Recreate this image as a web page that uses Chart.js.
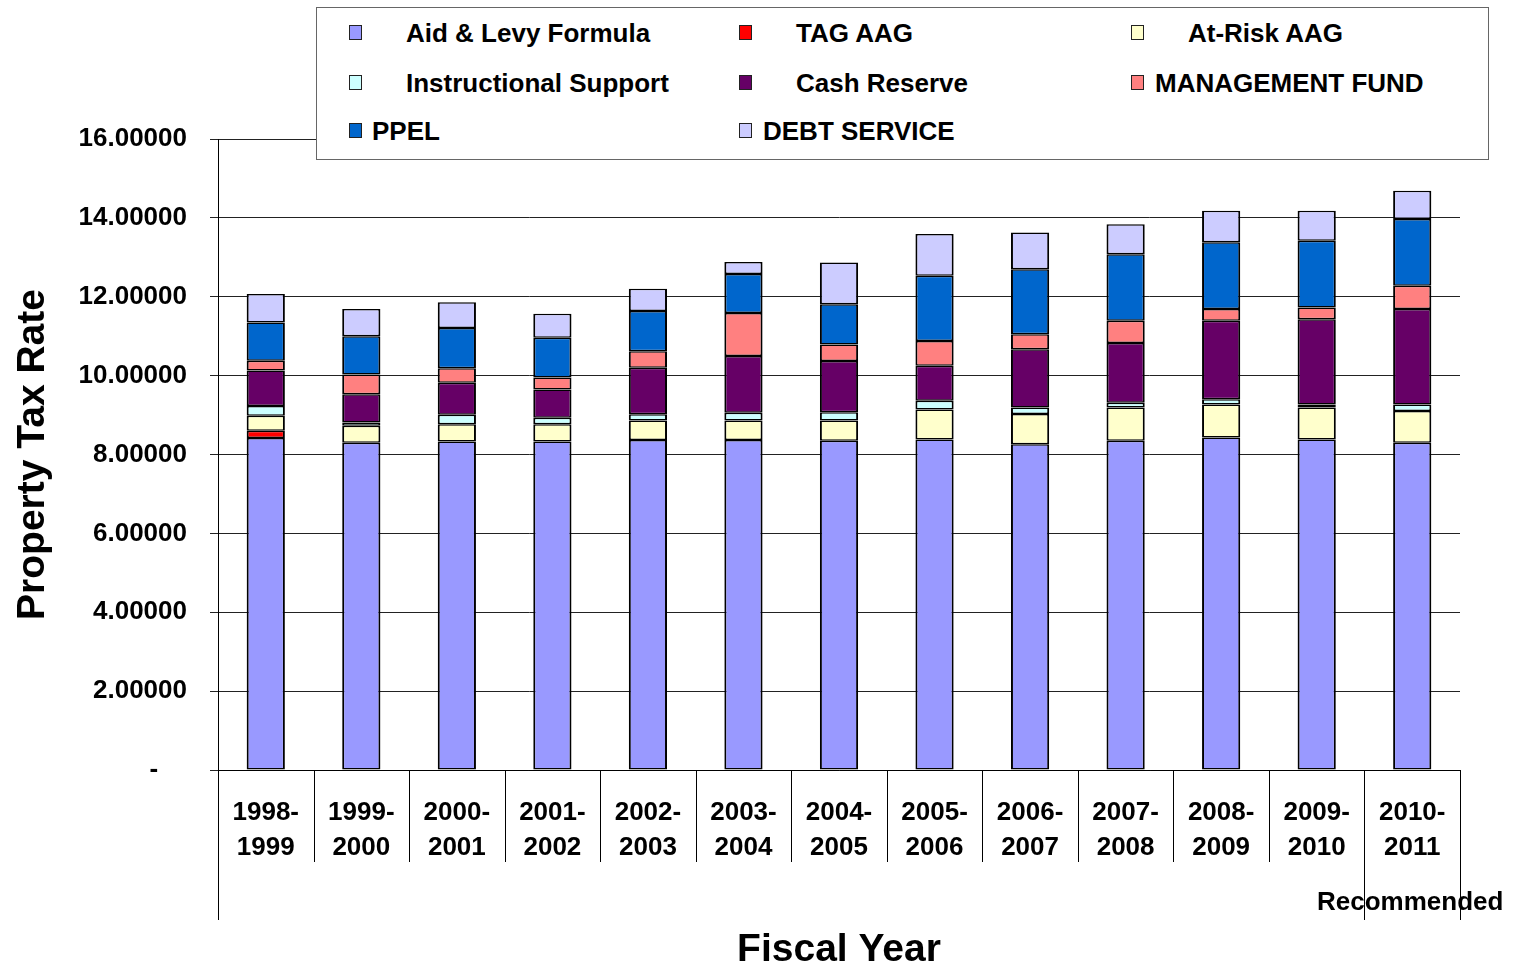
<!DOCTYPE html>
<html>
<head>
<meta charset="utf-8">
<script src="https://cdn.jsdelivr.net/npm/chart.js@4"></script>
<style>
  body { margin: 0; background: #fff; }
  #wrap { position: relative; width: 1521px; height: 968px; }
  #legend { position: absolute; left: 316px; top: 7px; width: 1171px; height: 151px;
    border: 1px solid #666; background: #fff; font: bold 26px "Liberation Sans", Arial, sans-serif; }
  .sw { position: absolute; width: 11px; height: 13px; border: 1.5px solid #222; }
  .lt { position: absolute; white-space: nowrap; line-height: 30px; color: #000; }
</style>
</head>
<body>
<div id="wrap">
  <canvas id="myChart" width="1521" height="968"></canvas>
  <div id="legend"></div>
</div>
<script>
const years = [
  ["1998-", "1999"], ["1999-", "2000"], ["2000-", "2001"], ["2001-", "2002"],
  ["2002-", "2003"], ["2003-", "2004"], ["2004-", "2005"], ["2005-", "2006"],
  ["2006-", "2007"], ["2007-", "2008"], ["2008-", "2009"], ["2009-", "2010"],
  ["2010-", "2011"]
];
const seriesNames = ["Aid & Levy Formula", "TAG AAG", "At-Risk AAG", "Instructional Support",
  "Cash Reserve", "MANAGEMENT FUND", "PPEL", "DEBT SERVICE"];
const seriesColors = ["#9999FF", "#FF0000", "#FFFFCC", "#CCFFFF", "#660066", "#FF8080", "#0066CC", "#CCCCFF"];

const aidLevy = [8.42, 8.30, 8.33, 8.33, 8.37, 8.37, 8.35, 8.38, 8.26, 8.35, 8.43, 8.38, 8.30];
const tagAag = [0.18, 0, 0, 0, 0, 0, 0, 0, 0, 0, 0, 0, 0];
const atRiskAag = [0.38, 0.43, 0.44, 0.44, 0.49, 0.49, 0.51, 0.76, 0.77, 0.84, 0.84, 0.81, 0.80];
const instructional = [0.25, 0.08, 0.24, 0.16, 0.16, 0.20, 0.21, 0.22, 0.16, 0.12, 0.13, 0.08, 0.17];
const cashReserve = [0.90, 0.72, 0.81, 0.72, 1.18, 1.44, 1.30, 0.89, 1.48, 1.52, 1.99, 2.16, 2.42];
const managementFund = [0.25, 0.50, 0.37, 0.30, 0.42, 1.09, 0.42, 0.63, 0.38, 0.56, 0.30, 0.30, 0.59];
const ppel = [0.97, 0.97, 1.02, 1.01, 1.02, 0.99, 1.02, 1.65, 1.65, 1.69, 1.69, 1.69, 1.69];
const debtService = [0.72, 0.69, 0.65, 0.61, 0.56, 0.30, 1.06, 1.06, 0.93, 0.76, 0.80, 0.76, 0.72];

const allSeries = [aidLevy, tagAag, atRiskAag, instructional, cashReserve, managementFund, ppel, debtService];
const recommendedLabel = "Recommended";

const FONT = '"Liberation Sans", Arial, sans-serif';

// legend (html box on top of the chart, like the original)
const legendSpots = [
  [349, 406, 0], [739, 796, 0], [1131, 1188, 0],
  [349, 406, 1], [739, 796, 1], [1131, 1155, 1],
  [349, 372, 2], [739, 763, 2]
];
const rowY = [33, 83, 131];
const legend = document.getElementById("legend");
seriesNames.forEach((name, i) => {
  let [sx, tx, row] = legendSpots[i];
  let sw = document.createElement("div");
  sw.className = "sw";
  sw.style.left = (sx - 317) + "px";
  sw.style.top = (rowY[row] - 8 - 8) + "px";
  sw.style.background = seriesColors[i];
  legend.appendChild(sw);
  let t = document.createElement("div");
  t.className = "lt";
  t.textContent = name;
  t.style.left = (tx - 317) + "px";
  t.style.top = (rowY[row] - 8 - 15) + "px";
  legend.appendChild(t);
});

// category separators + "Recommended" second level
const categoryLines = {
  id: "categoryLines",
  afterDraw(chart) {
    let ctx = chart.ctx;
    let x = chart.scales.x;
    let n = years.length;
    let step = (x.right - x.left) / n;
    let base = x.top;
    ctx.save();
    ctx.strokeStyle = "#000";
    ctx.lineWidth = 1;
    for (let i = 0; i <= n; i++) {
      let px = Math.round(x.left + i * step) + 0.5;
      let long = i === 0 || i === n || i === n - 1;
      ctx.beginPath();
      ctx.moveTo(px, base);
      ctx.lineTo(px, base + (long ? 150 : 92));
      ctx.stroke();
    }
    ctx.fillStyle = "#000";
    ctx.font = "bold 26px " + FONT;
    ctx.textAlign = "center";
    ctx.textBaseline = "middle";
    ctx.fillText(recommendedLabel, x.left + (n - 0.5) * step - 2, base + 133);
    ctx.restore();
  }
};

let ctx = document.getElementById("myChart").getContext("2d");
let chart = new Chart(ctx, {
  type: "bar",
  data: {
    labels: years,
    datasets: allSeries.map((d, i) => ({
      label: seriesNames[i],
      data: d,
      backgroundColor: seriesColors[i],
      borderColor: "#000",
      borderWidth: { top: 1.5, bottom: 1.5, left: 2, right: 2 },
      borderSkipped: false,
      barPercentage: 0.4,
      categoryPercentage: 1
    }))
  },
  options: {
    responsive: false,
    animation: false,
    layout: { padding: { top: 139, right: 61, left: 0, bottom: 0 } },
    plugins: { legend: { display: false }, tooltip: { enabled: false } },
    scales: {
      x: {
        stacked: true,
        grid: { display: false },
        border: { display: true, color: "#000", width: 1 },
        ticks: { color: "#000", padding: 17, font: { family: FONT, size: 26, weight: "bold", lineHeight: 1.35 } },
        title: { display: true, text: "Fiscal Year", color: "#000", padding: { top: 0, bottom: 0 },
          font: { family: FONT, size: 39, weight: "bold", lineHeight: 0.9 } },
        afterFit: (s) => { s.height = 198; }
      },
      y: {
        stacked: true,
        min: 0,
        max: 16,
        grid: { color: "#222", lineWidth: 1, tickLength: 8, drawTicks: true },
        border: { display: true, color: "#000", width: 1 },
        ticks: {
          stepSize: 2, color: "#000", padding: 23,
          font: { family: FONT, size: 26, weight: "bold" },
          callback: (v) => (v === 0 ? "-    " : v.toFixed(5))
        },
        title: { display: true, text: "Property Tax Rate", color: "#000", padding: { top: 14, bottom: 0 },
          font: { family: FONT, size: 39, weight: "bold", lineHeight: 1 } },
        afterFit: (s) => { s.width = 218; }
      }
    }
  },
  plugins: [categoryLines]
});
</script>
</body>
</html>
